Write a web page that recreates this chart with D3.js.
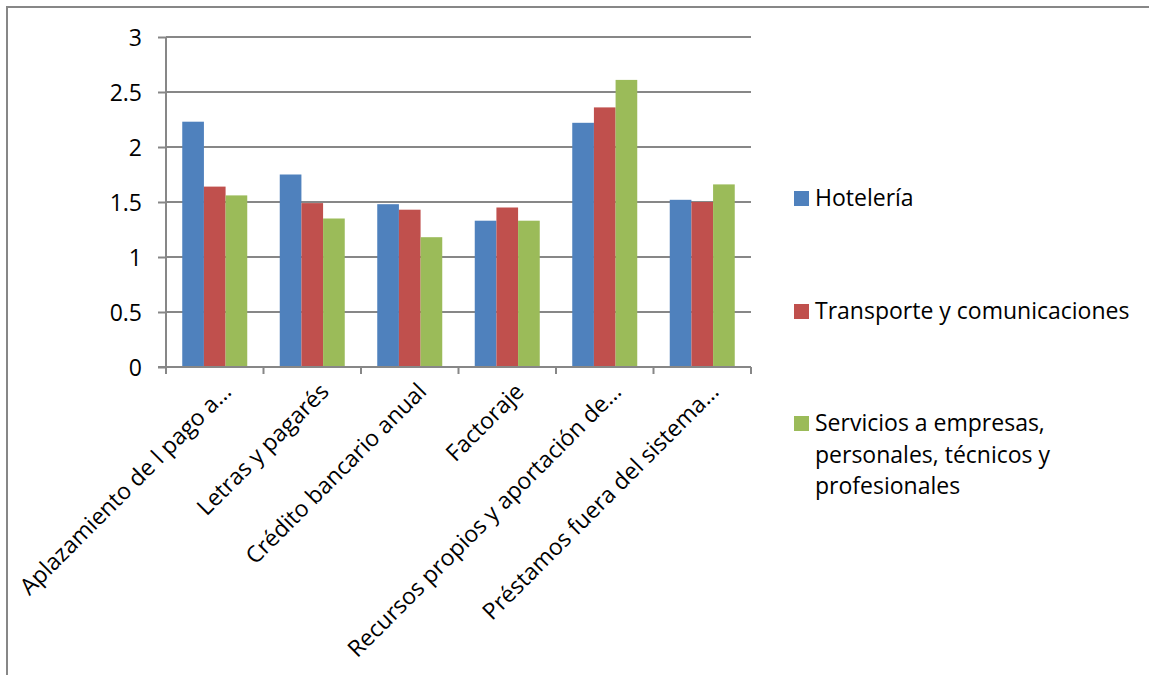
<!DOCTYPE html>
<html>
<head>
<meta charset="utf-8">
<script src="https://cdn.jsdelivr.net/npm/d3@7"></script>
<style>
  html, body { margin: 0; padding: 0; background: #fff; }
  svg { display: block; }
  text { font-family: "Open Sans", "Noto Sans", sans-serif; fill: #000; }
</style>
</head>
<body>
<svg id="chart" width="1149" height="675"></svg>
<script>
// Categories (truncated labels as shown on the axis)
const categories = [
  "Aplazamiento de l pago a…",
  "Letras y pagarés",
  "Crédito bancario anual",
  "Factoraje",
  "Recursos propios y aportación de…",
  "Préstamos fuera del sistema…"
];
const seriesNames = [
  "Hotelería",
  "Transporte y comunicaciones",
  "Servicios a empresas, personales, técnicos y profesionales"
];
const hoteleria  = [2.23, 1.75, 1.48, 1.33, 2.22, 1.52];
const transporte = [1.64, 1.49, 1.43, 1.45, 2.36, 1.50];
const servicios  = [1.56, 1.35, 1.18, 1.33, 2.61, 1.66];
const yTicks = [0, 0.5, 1, 1.5, 2, 2.5, 3];
const yTickLabels = ["0", "0.5", "1", "1.5", "2", "2.5", "3"];
const colors = ["#4F81BD", "#C0504D", "#9BBB59"];
const legendLines = [
  ["Hotelería"],
  ["Transporte y comunicaciones"],
  ["Servicios a empresas,", "personales, técnicos y", "profesionales"]
];

const values = [hoteleria, transporte, servicios];
const svg = d3.select("#chart");
const gridColor = "#878787";
const fontSize = "23px";

// Outer chart frame
svg.append("rect")
  .attr("x", 7).attr("y", 7)
  .attr("width", 1160).attr("height", 700)
  .attr("fill", "none").attr("stroke", gridColor).attr("stroke-width", 2);

const plot = { left: 166, right: 751, top: 37, bottom: 367 };

const x0 = d3.scaleBand().domain(d3.range(categories.length))
  .range([plot.left, plot.right]).paddingInner(0).paddingOuter(0);
// Gap width of 150%: bars occupy 3/4.5 of each band
const x1 = d3.scaleBand().domain(d3.range(seriesNames.length))
  .range([0, x0.bandwidth()]).paddingOuter(0.75).paddingInner(0);
const y = d3.scaleLinear().domain([0, 3]).range([plot.bottom, plot.top]);

// Horizontal gridlines
svg.append("g").selectAll("line").data(yTicks.filter(d => d > 0)).join("line")
  .attr("x1", plot.left).attr("x2", plot.right)
  .attr("y1", d => y(d)).attr("y2", d => y(d))
  .attr("stroke", gridColor).attr("stroke-width", 2);

// Bars
const groups = svg.append("g").selectAll("g").data(categories).join("g")
  .attr("transform", (d, i) => `translate(${x0(i)},0)`);
groups.selectAll("rect")
  .data((d, i) => values.map((s, k) => ({ k, v: s[i] })))
  .join("rect")
  .attr("x", d => x1(d.k))
  .attr("width", x1.bandwidth())
  .attr("y", d => y(d.v))
  .attr("height", d => y(0) - y(d.v))
  .attr("fill", d => colors[d.k]);

// Y axis
const yAxis = svg.append("g")
  .attr("transform", `translate(${plot.left},0)`)
  .call(d3.axisLeft(y).tickValues(yTicks)
    .tickFormat((d, i) => yTickLabels[i]).tickSize(8).tickPadding(16));
yAxis.select(".domain").attr("stroke", gridColor).attr("stroke-width", 2)
  .attr("d", `M0,${plot.top}V${plot.bottom}`);
yAxis.selectAll(".tick line").attr("stroke", gridColor).attr("stroke-width", 2);
yAxis.selectAll(".tick text").style("font-size", fontSize)
  .attr("dy", "0.36em").attr("fill", "#000");

// X axis line and category separators
const xg = svg.append("g");
xg.append("line")
  .attr("x1", plot.left - 8).attr("x2", plot.right)
  .attr("y1", plot.bottom).attr("y2", plot.bottom)
  .attr("stroke", gridColor).attr("stroke-width", 2);
const bounds = d3.range(categories.length + 1).map(i =>
  i < categories.length ? x0(i) : x0(i - 1) + x0.bandwidth());
xg.selectAll("line.sep").data(bounds).join("line").attr("class", "sep")
  .attr("x1", d => d).attr("x2", d => d)
  .attr("y1", plot.bottom).attr("y2", plot.bottom + 7)
  .attr("stroke", gridColor).attr("stroke-width", 2);

// Rotated category labels
xg.selectAll("text.cat").data(categories).join("text").attr("class", "cat")
  .attr("transform", (d, i) =>
    `translate(${x0(i) + x0.bandwidth() / 2 + 18},${plot.bottom + 26}) rotate(-45)`)
  .attr("text-anchor", "end")
  .style("font-size", fontSize)
  .text(d => d);

// Legend
const legendY = [206, 319, 431];
const leg = svg.append("g");
legendLines.forEach((lines, k) => {
  leg.append("rect")
    .attr("x", 794).attr("y", legendY[k] - 15)
    .attr("width", 15).attr("height", 15)
    .attr("fill", colors[k]);
  const t = leg.append("text").attr("x", 815).attr("y", legendY[k])
    .style("font-size", fontSize);
  lines.forEach((ln, j) => {
    t.append("tspan").attr("x", 815).attr("dy", j === 0 ? 0 : 31.5).text(ln);
  });
});
</script>
</body>
</html>
